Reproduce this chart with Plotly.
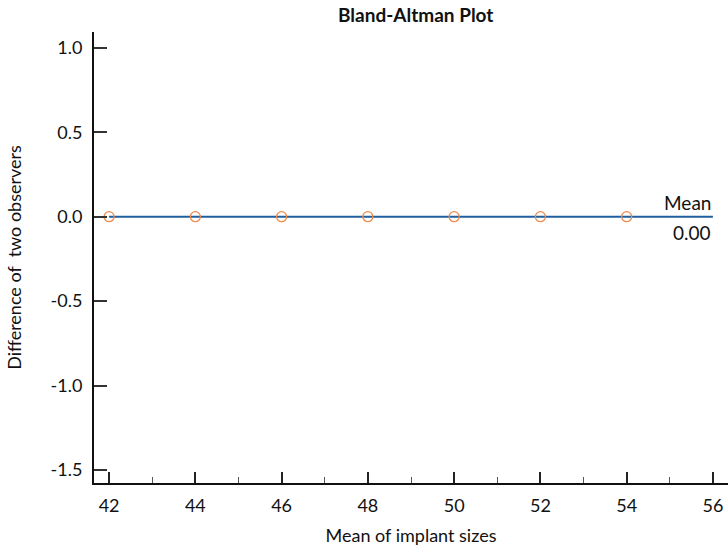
import plotly.graph_objects as go

mean_sizes = [42, 44, 46, 48, 50, 52, 54]
differences = [0, 0, 0, 0, 0, 0, 0]
mean_diff = 0.00
x_line = [42, 56]

fig = go.Figure()
fig.add_trace(go.Scatter(x=x_line, y=[mean_diff, mean_diff], mode="lines",
                         line=dict(color="#1f5f9f", width=2), showlegend=False))
fig.add_trace(go.Scatter(x=mean_sizes, y=differences, mode="markers",
                         marker=dict(symbol="circle-open", size=10, color="#f0894a",
                                     line=dict(width=1.3)), showlegend=False))

FAM = "Lato, Noto Sans, sans-serif"
font = dict(family=FAM, size=18, color="#111")
fig.update_layout(
    width=728, height=546,
    margin=dict(l=94, r=0, t=32, b=63),
    plot_bgcolor="white", paper_bgcolor="white",
    font=font,
    xaxis=dict(range=[41.65, 56.35], tickvals=list(range(42, 57, 2)),
               ticks="inside", ticklen=11, tickwidth=1.5, tickcolor="#222",
               minor=dict(tickvals=list(range(43, 56, 2)), ticks="inside", ticklen=6,
                          tickcolor="#555", tickwidth=1),
               showline=True, linecolor="#111", linewidth=2, showgrid=False,
               zeroline=False, tickfont=font, ticklabelstandoff=5,
               title=dict(text="Mean of implant sizes", font=font, standoff=16)),
    yaxis=dict(range=[-1.576, 1.093], tickvals=[1.0, 0.5, 0.0, -0.5, -1.0, -1.5],
               ticktext=["1.0", "0.5", "0.0", "-0.5", "-1.0", "-1.5"],
               ticks="inside", ticklen=13, tickwidth=1.5, tickcolor="#333",
               showline=True, linecolor="#111", linewidth=2, showgrid=False,
               zeroline=False, tickfont=font, ticklabelstandoff=6,
               title=dict(text="Difference of  two observers", font=font, standoff=24)),
)
fig.add_annotation(text="<b>Bland-Altman Plot</b>", xref="paper", yref="paper",
                   x=(415 - 94) / 634, y=1, yshift=32 - 14, yanchor="middle",
                   showarrow=False, font=dict(family=FAM, size=19, color="#111"))
fig.add_annotation(text="Mean", x=56, y=mean_diff, xanchor="right", yanchor="middle",
                   yshift=14, showarrow=False, font=dict(family=FAM, size=19, color="#111"))
fig.add_annotation(text=f"{mean_diff:.2f}", x=56, y=mean_diff, xanchor="right", yanchor="middle",
                   yshift=-16, showarrow=False, font=dict(family=FAM, size=19, color="#111"))
fig.write_html("out.html")
